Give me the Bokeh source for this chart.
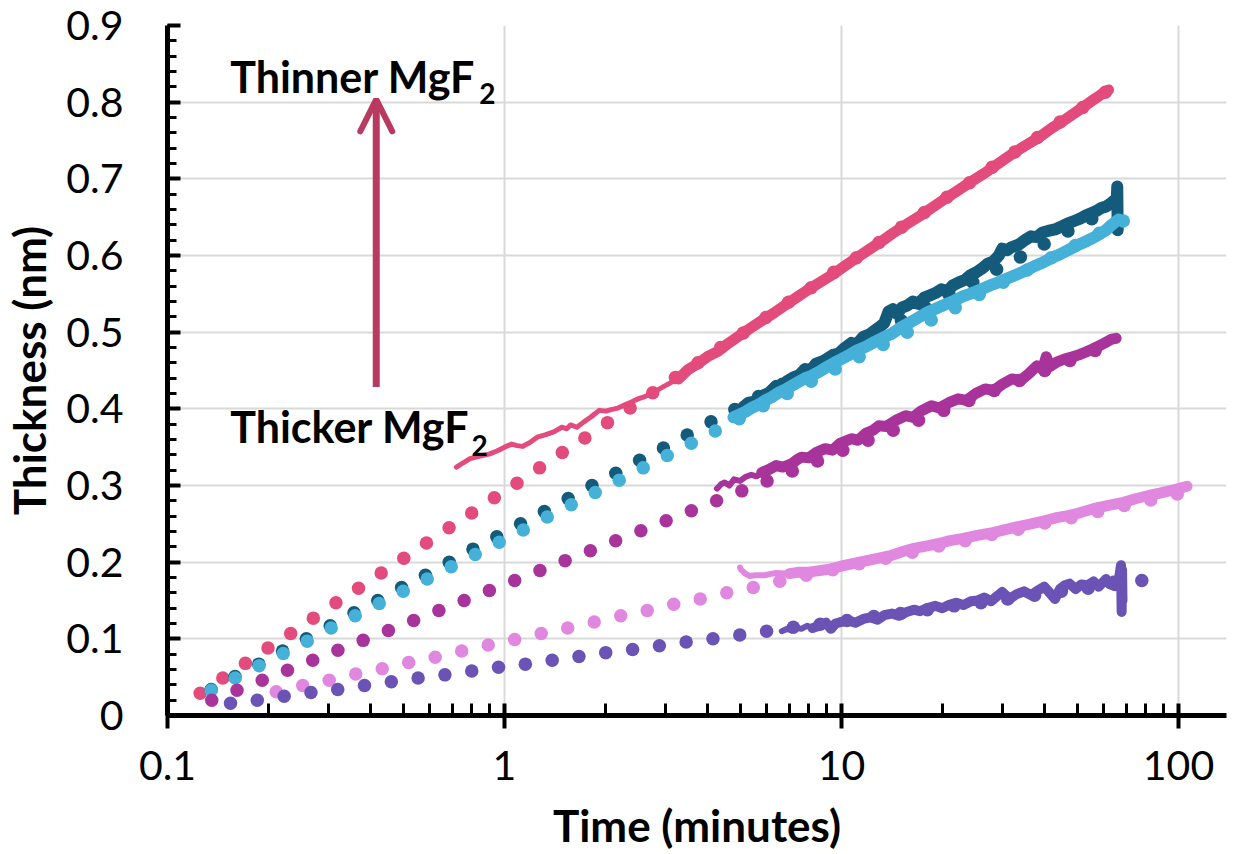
from bokeh.plotting import figure
from bokeh.models import (Range1d, FixedTicker, SingleIntervalTicker, CustomJSTickFormatter,
                          Label, Arrow, OpenHead)
from bokeh.embed import file_html
from bokeh.resources import INLINE

FONT = "Lato"

# ---------------- data ----------------
x_major_ticks = [0.1, 1, 10, 100]
x_minor_ticks = [0.2, 0.3, 0.4, 0.5, 0.6, 0.7, 0.8, 0.9, 2, 3, 4, 5, 6, 7, 8, 9,
                 20, 30, 40, 50, 60, 70, 80, 90]

# dotted series (time in minutes, thickness in nm)
pink_dot_t = [0.125, 0.1459, 0.1703, 0.1987, 0.232, 0.2708, 0.3161, 0.3689, 0.4306, 0.5026,
              0.5867, 0.6848, 0.7993, 0.9329, 1.089, 1.271, 1.484, 1.732, 2.021, 2.359,
              2.754, 3.214, 3.752, 4.379, 5.111, 5.966, 6.963, 8.127, 9.486, 11.07,
              12.92, 15.08, 17.61, 20.55, 23.99, 28.0, 32.68, 38.15, 44.53, 51.97, 60.66]
pink_dot_y = [0.029, 0.049, 0.068, 0.088, 0.107, 0.127, 0.147, 0.166, 0.186, 0.205,
              0.225, 0.245, 0.264, 0.284, 0.303, 0.323, 0.343, 0.362, 0.382, 0.401,
              0.421, 0.441, 0.460, 0.480, 0.499, 0.519, 0.539, 0.558, 0.578, 0.597,
              0.617, 0.637, 0.656, 0.676, 0.695, 0.715, 0.735, 0.754, 0.774, 0.793, 0.813]

dark_dot_t = [0.1348, 0.1586, 0.1866, 0.2195, 0.2583, 0.3039, 0.3576, 0.4207, 0.495, 0.5825,
              0.6853, 0.8063, 0.9487, 1.116, 1.313, 1.545, 1.818, 2.139, 2.517, 2.962,
              3.484, 4.1, 4.824, 5.675, 6.678, 7.857, 9.244, 10.88, 12.8, 15.06,
              17.72, 20.84, 24.52, 28.86, 33.95, 39.94, 46.99, 55.29]
dark_dot_y = [0.034, 0.051, 0.067, 0.084, 0.100, 0.117, 0.134, 0.150, 0.167, 0.183,
              0.200, 0.217, 0.233, 0.250, 0.266, 0.283, 0.300, 0.316, 0.333, 0.349,
              0.366, 0.383, 0.399, 0.416, 0.432, 0.449, 0.466, 0.482, 0.499, 0.515,
              0.532, 0.549, 0.565, 0.582, 0.598, 0.615, 0.632, 0.648]

cyan_dot_t = [0.1348, 0.1588, 0.1871, 0.2205, 0.2598, 0.306, 0.3606, 0.4248, 0.5006, 0.5898,
              0.6949, 0.8188, 0.9645, 1.137, 1.339, 1.578, 1.859, 2.19, 2.58, 3.041,
              3.583, 4.221, 4.973, 5.86, 6.902, 8.132, 9.581, 11.29, 13.3, 15.67,
              18.46, 21.75, 25.63, 30.2, 35.58, 41.92, 49.39, 58.19, 68.58]
cyan_dot_y = [0.033, 0.049, 0.065, 0.081, 0.097, 0.114, 0.130, 0.146, 0.162, 0.178,
              0.194, 0.210, 0.226, 0.242, 0.259, 0.275, 0.291, 0.307, 0.323, 0.339,
              0.355, 0.371, 0.387, 0.404, 0.420, 0.436, 0.452, 0.468, 0.484, 0.500,
              0.516, 0.532, 0.549, 0.565, 0.581, 0.597, 0.613, 0.629, 0.645]

mag_dot_t = [0.1353, 0.1608, 0.191, 0.227, 0.2697, 0.3204, 0.3807, 0.4524, 0.5375, 0.6387,
             0.7589, 0.902, 1.072, 1.274, 1.513, 1.798, 2.137, 2.539, 3.017, 3.585,
             4.259, 5.061, 6.014, 7.145, 8.49, 10.09, 11.99, 14.24, 16.93, 20.11,
             23.89, 28.39, 33.74, 40.09, 47.63, 56.59]
mag_dot_y = [0.020, 0.033, 0.046, 0.059, 0.072, 0.085, 0.098, 0.111, 0.124, 0.137,
             0.150, 0.163, 0.176, 0.189, 0.202, 0.215, 0.228, 0.241, 0.254, 0.267,
             0.280, 0.293, 0.306, 0.319, 0.332, 0.346, 0.359, 0.372, 0.385, 0.398,
             0.411, 0.424, 0.437, 0.450, 0.463, 0.476]

lav_dot_t = [0.2102, 0.2519, 0.3019, 0.3619, 0.4337, 0.5197, 0.6228, 0.7465, 0.8947, 1.072,
             1.285, 1.54, 1.846, 2.213, 2.652, 3.178, 3.809, 4.566, 5.472, 6.559,
             7.861, 9.419, 11.29, 13.53, 16.22, 19.44, 23.29, 27.92, 33.46, 40.11,
             48.07, 57.61, 69.05, 82.76, 99.17]
lav_dot_y = [0.031, 0.039, 0.046, 0.054, 0.061, 0.069, 0.076, 0.084, 0.092, 0.099,
             0.107, 0.114, 0.122, 0.130, 0.137, 0.145, 0.152, 0.160, 0.167, 0.175,
             0.183, 0.190, 0.198, 0.205, 0.213, 0.221, 0.228, 0.236, 0.243, 0.251,
             0.258, 0.266, 0.274, 0.281, 0.289]

vio_dot_t = [0.1538, 0.1847, 0.2219, 0.2665, 0.32, 0.3842, 0.4615, 0.5542, 0.6656, 0.7995,
             0.96, 1.153, 1.385, 1.663, 1.997, 2.399, 2.881, 3.459, 4.155, 4.99,
             5.993, 7.197, 8.644, 10.38, 12.47, 14.97, 17.98, 21.59, 25.93, 31.14,
             37.4, 44.92, 53.95, 64.79, 77.82]
vio_dot_y = [0.016, 0.020, 0.025, 0.030, 0.034, 0.039, 0.044, 0.049, 0.053, 0.058,
             0.063, 0.067, 0.072, 0.077, 0.082, 0.086, 0.091, 0.096, 0.100, 0.105,
             0.110, 0.115, 0.119, 0.124, 0.129, 0.133, 0.138, 0.143, 0.147, 0.152,
             0.157, 0.162, 0.166, 0.171, 0.176]

# measured (line) series
pink_line_t = [0.72, 0.75, 0.79, 0.84, 0.90, 0.95, 1.00, 1.05, 1.09, 1.13, 1.19, 1.25, 1.32, 1.40,
               1.48, 1.53, 1.57, 1.64, 1.72, 1.80, 1.86, 1.91, 2.00, 2.07, 2.17, 2.27, 2.38, 2.49,
               2.61, 2.73, 2.86, 2.99, 3.14, 3.28, 3.50, 3.75, 4.00, 4.30, 4.60, 5.00, 5.40, 5.80,
               6.30, 6.80, 7.40, 8.00, 8.70, 9.40, 10.2, 11.1, 12.0, 13.0, 14.2, 15.5, 17.0, 18.5,
               20.0, 22.0, 24.0, 26.5, 29.0, 32.0, 35.0, 38.5, 42.0, 46.0, 50.0, 55.0, 59.0, 62.0]
pink_line_y = [0.324, 0.329, 0.335, 0.338, 0.341, 0.345, 0.350, 0.354, 0.352, 0.351, 0.356, 0.363,
               0.366, 0.370, 0.376, 0.374, 0.379, 0.376, 0.383, 0.389, 0.394, 0.398, 0.397, 0.399,
               0.401, 0.405, 0.409, 0.413, 0.416, 0.420, 0.425, 0.430, 0.435, 0.439, 0.451, 0.459,
               0.468, 0.475, 0.485, 0.496, 0.506, 0.515, 0.525, 0.535, 0.546, 0.556, 0.566, 0.575,
               0.586, 0.597, 0.607, 0.617, 0.629, 0.640, 0.651, 0.662, 0.672, 0.684, 0.695, 0.707,
               0.719, 0.732, 0.743, 0.754, 0.766, 0.777, 0.788, 0.801, 0.810, 0.816]

dark_line_t = [5.10, 5.30, 5.50, 5.70, 5.90, 6.10, 6.40, 6.60, 6.90, 7.20, 7.50, 7.80, 8.10, 8.40,
               8.80, 9.10, 9.40, 9.80, 10.2, 10.7, 11.1, 11.6, 12.1, 12.6, 13.0, 13.4, 13.8, 14.2,
               14.6, 15.1, 15.7, 16.3, 16.9, 17.6, 18.3, 19.0, 19.8, 20.6, 21.4, 22.3, 23.2, 24.1,
               25.1, 26.1, 27.1, 28.2, 29.3, 30.0, 31.0, 32.0, 33.5, 35.0, 36.5, 38.0, 39.5, 41.0,
               43.0, 45.0, 47.0, 49.0, 51.0, 53.0, 55.0, 57.0, 59.0, 61.0, 63.0, 64.5, 65.6, 65.8,
               65.9, 66.0, 66.1]
dark_line_y = [0.402, 0.408, 0.409, 0.415, 0.418, 0.421, 0.430, 0.428, 0.436, 0.441, 0.444, 0.452,
               0.450, 0.459, 0.462, 0.466, 0.470, 0.472, 0.479, 0.486, 0.484, 0.494, 0.497, 0.503,
               0.507, 0.512, 0.527, 0.530, 0.524, 0.532, 0.535, 0.540, 0.537, 0.545, 0.548, 0.551,
               0.556, 0.553, 0.561, 0.565, 0.568, 0.574, 0.578, 0.583, 0.589, 0.592, 0.600, 0.609,
               0.607, 0.611, 0.614, 0.620, 0.625, 0.624, 0.630, 0.632, 0.634, 0.638, 0.642, 0.645,
               0.648, 0.652, 0.655, 0.658, 0.662, 0.664, 0.668, 0.672, 0.672, 0.690, 0.660, 0.633,
               0.650]

cyan_line_t = [4.78, 4.95, 5.18, 5.40, 5.65, 5.94, 6.20, 6.50, 6.80, 7.12, 7.45, 7.80, 8.15, 8.55,
               9.00, 9.50, 10.0, 10.5, 11.1, 11.8, 12.5, 13.3, 14.1, 15.0, 16.0, 16.9, 18.0, 19.1,
               20.3, 21.6, 23.0, 24.4, 26.0, 27.6, 29.2, 31.0, 33.0, 35.1, 37.3, 39.6, 42.1, 44.7,
               47.5, 50.5, 53.5, 55.8, 57.9, 60.5, 63.4, 65.0, 66.4]
cyan_line_y = [0.389, 0.392, 0.396, 0.401, 0.405, 0.411, 0.415, 0.421, 0.425, 0.430, 0.435, 0.440,
               0.443, 0.448, 0.454, 0.460, 0.465, 0.470, 0.476, 0.481, 0.487, 0.493, 0.498, 0.506,
               0.513, 0.519, 0.526, 0.531, 0.536, 0.541, 0.547, 0.551, 0.556, 0.561, 0.565, 0.570,
               0.575, 0.580, 0.586, 0.591, 0.597, 0.602, 0.608, 0.614, 0.619, 0.623, 0.627, 0.632,
               0.640, 0.644, 0.647]

mag_line_t = [4.27, 4.40, 4.50, 4.65, 4.80, 5.00, 5.18, 5.40, 5.60, 5.80, 6.10, 6.40, 6.70, 7.10,
              7.40, 7.60, 8.00, 8.40, 8.95, 9.40, 9.90, 10.7, 11.2, 11.8, 12.4, 12.9, 13.6, 14.5,
              15.5, 16.3, 17.2, 18.5, 19.5, 20.8, 22.2, 23.5, 25.0, 26.7, 28.3, 30.0, 32.0, 34.0,
              36.0, 38.0, 39.5, 40.5, 41.5, 43.5, 45.9, 48.5, 51.0, 53.0, 55.6, 58.0, 60.5, 63.4,
              65.3]
mag_line_y = [0.296, 0.302, 0.304, 0.300, 0.308, 0.306, 0.311, 0.314, 0.312, 0.317, 0.321, 0.326,
              0.324, 0.328, 0.334, 0.337, 0.336, 0.343, 0.348, 0.346, 0.355, 0.361, 0.359, 0.368,
              0.372, 0.378, 0.377, 0.385, 0.391, 0.389, 0.397, 0.404, 0.401, 0.408, 0.413, 0.411,
              0.420, 0.426, 0.424, 0.432, 0.439, 0.437, 0.446, 0.456, 0.452, 0.468, 0.455, 0.461,
              0.465, 0.468, 0.471, 0.474, 0.478, 0.482, 0.486, 0.491, 0.492]

lav_line_t = [5.00, 5.04, 5.18, 5.34, 5.55, 5.90, 6.40, 7.00, 7.50, 8.00, 8.60, 9.30, 10.0, 10.8,
              11.6, 12.8, 14.1, 15.2, 16.4, 17.8, 19.3, 21.0, 23.0, 25.3, 27.8, 30.4, 33.1, 36.5,
              40.0, 43.5, 47.5, 51.5, 56.2, 62.0, 68.7, 75.0, 81.6, 88.0, 94.1, 100.0, 106.0]
lav_line_y = [0.193, 0.190, 0.185, 0.182, 0.183, 0.183, 0.186, 0.185, 0.187, 0.187, 0.189, 0.191,
              0.195, 0.198, 0.201, 0.205, 0.209, 0.214, 0.218, 0.221, 0.224, 0.228, 0.231, 0.235,
              0.238, 0.242, 0.246, 0.250, 0.254, 0.258, 0.261, 0.265, 0.270, 0.274, 0.278, 0.283,
              0.287, 0.290, 0.293, 0.296, 0.299]

vio_line_t = [6.65, 6.90, 7.10, 7.30, 7.60, 7.90, 8.20, 8.70, 9.00, 9.30, 9.60, 10.0, 10.5, 11.0,
              11.6, 12.2, 12.8, 13.4, 14.1, 14.8, 15.6, 16.4, 17.1, 18.0, 19.0, 19.9, 20.8, 21.9,
              23.0, 24.2, 25.3, 26.5, 27.8, 29.0, 30.0, 31.5, 33.0, 34.8, 36.5, 38.2, 40.0, 41.5,
              43.0, 44.5, 46.0, 47.5, 49.5, 51.5, 53.8, 56.0, 58.0, 60.9, 62.5, 64.0, 65.5, 66.5,
              67.5, 67.8, 68.0, 68.2]
vio_line_y = [0.110, 0.113, 0.111, 0.115, 0.113, 0.117, 0.114, 0.118, 0.121, 0.113, 0.120, 0.122,
              0.124, 0.121, 0.126, 0.128, 0.125, 0.131, 0.133, 0.130, 0.135, 0.138, 0.136, 0.140,
              0.143, 0.140, 0.144, 0.147, 0.144, 0.149, 0.150, 0.154, 0.149, 0.156, 0.161, 0.152,
              0.158, 0.162, 0.157, 0.163, 0.168, 0.160, 0.152, 0.165, 0.170, 0.172, 0.165, 0.171,
              0.170, 0.175, 0.168, 0.178, 0.171, 0.176, 0.172, 0.177, 0.196, 0.135, 0.190, 0.150]

PINK = "#e24b7b"
DARK = "#145a7a"
CYAN = "#45b0d8"
MAG = "#a8349b"
LAV = "#e088e0"
VIO = "#6a53b5"
ARROW = "#b83a60"

# ---------------- figure ----------------
p = figure(width=1234, height=853, x_axis_type="log",
           x_range=Range1d(0.1, 138.8), y_range=Range1d(0, 0.9),
           output_backend="svg", toolbar_location=None,
           min_border_left=167, min_border_right=8, min_border_top=25, min_border_bottom=137)
p.outline_line_color = None
p.background_fill_color = "white"
p.border_fill_color = "white"

xt = FixedTicker(ticks=x_major_ticks, minor_ticks=x_minor_ticks)
p.xaxis.ticker = xt
p.xgrid.ticker = xt
p.xaxis.formatter = CustomJSTickFormatter(code="return tick >= 1 ? tick.toFixed(0) : tick.toFixed(1);")
yt = SingleIntervalTicker(interval=0.1, num_minor_ticks=5)
p.yaxis.ticker = yt
p.ygrid.ticker = yt
p.yaxis.formatter = CustomJSTickFormatter(code="return Math.abs(tick) < 1e-9 ? '0' : tick.toFixed(1);")

for g in (p.xgrid, p.ygrid):
    g.grid_line_color = "#d9d9d9"
    g.grid_line_width = 2

for ax in (p.xaxis, p.yaxis):
    ax.axis_line_color = "black"
    ax.axis_line_width = 5
    ax.major_tick_line_color = "black"
    ax.minor_tick_line_color = "black"
    ax.major_tick_line_width = 4
    ax.minor_tick_line_width = 3
    ax.major_label_text_font = FONT
    ax.major_label_text_font_size = "41px"
    ax.major_label_text_color = "black"
    ax.axis_label_text_font = FONT
    ax.axis_label_text_font_style = "bold"
    ax.axis_label_text_font_size = "44px"
    ax.axis_label_text_color = "black"

p.xaxis.axis_label = "Time (minutes)"
p.xaxis.major_tick_in = 12
p.xaxis.major_tick_out = 13
p.xaxis.minor_tick_in = 12
p.xaxis.minor_tick_out = 0
p.xaxis.major_label_standoff = 22
p.xaxis.axis_label_standoff = 16

p.yaxis.axis_label = "Thickness (nm)"
p.yaxis.major_tick_in = 13
p.yaxis.major_tick_out = 0
p.yaxis.minor_tick_in = 9
p.yaxis.minor_tick_out = 0
p.yaxis.major_label_standoff = 44
p.yaxis.axis_label_standoff = 8

# ---------------- series ----------------
# (dots t, dots y, line t, line y, colour, thin width, thick width, time where band thickens)
series = [
    (pink_dot_t, pink_dot_y, pink_line_t, pink_line_y, PINK, 5, 11, 3.28),
    (dark_dot_t, dark_dot_y, dark_line_t, dark_line_y, DARK, 11, 12, 0.0),
    (cyan_dot_t, cyan_dot_y, cyan_line_t, cyan_line_y, CYAN, 11, 12, 0.0),
    (mag_dot_t, mag_dot_y, mag_line_t, mag_line_y, MAG, 6, 11, 5.8),
    (lav_dot_t, lav_dot_y, lav_line_t, lav_line_y, LAV, 6, 11, 7.0),
    (vio_dot_t, vio_dot_y, vio_line_t, vio_line_y, VIO, 6, 10, 8.2),
]
for dt, dy, lt, ly, col, w_thin, w_thick, t_split in series:
    p.scatter(dt, dy, size=13.5, fill_color=col, line_color=None)
    early = [(t, v) for t, v in zip(lt, ly) if t <= t_split]
    late = [(t, v) for t, v in zip(lt, ly) if t >= t_split]
    if len(early) > 1:
        p.line([e[0] for e in early], [e[1] for e in early], line_color=col,
               line_width=w_thin, line_join="round", line_cap="round")
    p.line([e[0] for e in late], [e[1] for e in late], line_color=col,
           line_width=w_thick, line_join="round", line_cap="round")

# ---------------- annotations ----------------
p.add_layout(Arrow(end=OpenHead(size=32, line_color=ARROW, line_width=6, line_cap="round"),
                   x_start=0.4163, y_start=0.4285, x_end=0.4163, y_end=0.8036,
                   line_color=ARROW, line_width=7))

def add_text(x, y, text, size):
    p.add_layout(Label(x=x, y=y, text=text, text_font=FONT,
                       text_font_style="bold", text_font_size=size, text_color="black",
                       text_baseline="alphabetic", text_align="left"))

add_text(0.1535, 0.8332, "Thinner MgF", "43px")
add_text(0.8414, 0.8116, "2", "28px")
add_text(0.1535, 0.3764, "Thicker MgF", "43px")
add_text(0.798, 0.3519, "2", "28px")

open("out.html", "w").write(file_html(p, INLINE))
